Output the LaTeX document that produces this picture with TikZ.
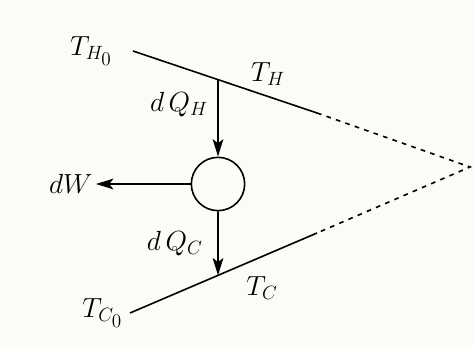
\documentclass[tikz,border=0pt]{standalone}
\usepackage{amsmath}
\usepackage{xcolor}
\usetikzlibrary{arrows.meta, positioning, calc}

\definecolor{paper}{RGB}{251,251,247}

\begin{document}
\begin{tikzpicture}[
    x=0.75pt, y=-0.75pt,
    line width=1.2pt,
    font=\fontsize{20}{24}\selectfont,
    engine/.style={circle, draw, minimum size=40pt, inner sep=0pt},
    lbl/.style={inner sep=2pt},
    arrow/.style={-{Stealth[length=13pt, width=8pt, inset=3pt]}},
    far/.style={dash pattern=on 3.5pt off 4pt},
]
    \useasboundingbox[fill=paper] (0,0) rectangle (473,348);

    \coordinate (hot0) at (133,51);
    \coordinate (hot1) at (317,113);
    \coordinate (cold0) at (130,313);
    \coordinate (cold1) at (317,233);
    \coordinate (apex) at (470,167);

    \node[engine] (eng) at (218,184) {};

    % reservoir lines
    \draw (hot0) -- (hot1);
    \draw (cold0) -- (cold1);
    \draw[far] (hot1) -- (apex) -- (cold1);

    \coordinate (qh) at ($(hot0)!0.462!(hot1)$);
    \coordinate (qc) at ($(cold0)!0.4706!(cold1)$);

    \node[lbl, left=13pt of hot0] (th0) {$T_{H_{\scriptstyle 0}}$};
    \node[lbl, left=3pt of cold0] (tc0) {$T_{C_{\scriptstyle 0}}$};
    \node[lbl] (th) at (268,74) {$T_H$};
    \node[lbl] (tc) at (262,288) {$T_C$};
    \node[lbl, anchor=east] (dw) at (96,184) {$dW$};

    % heat flows and work
    \draw[arrow] (qh) -- node[lbl, left=5pt, pos=0.32] (dqh) {$d\,Q_H$} (eng);
    \draw[arrow] (eng) -- node[lbl, left=9pt, pos=0.5] (dqc) {$d\,Q_C$} (qc);
    \draw[arrow] (eng) -- (dw);
\end{tikzpicture}
\end{document}
